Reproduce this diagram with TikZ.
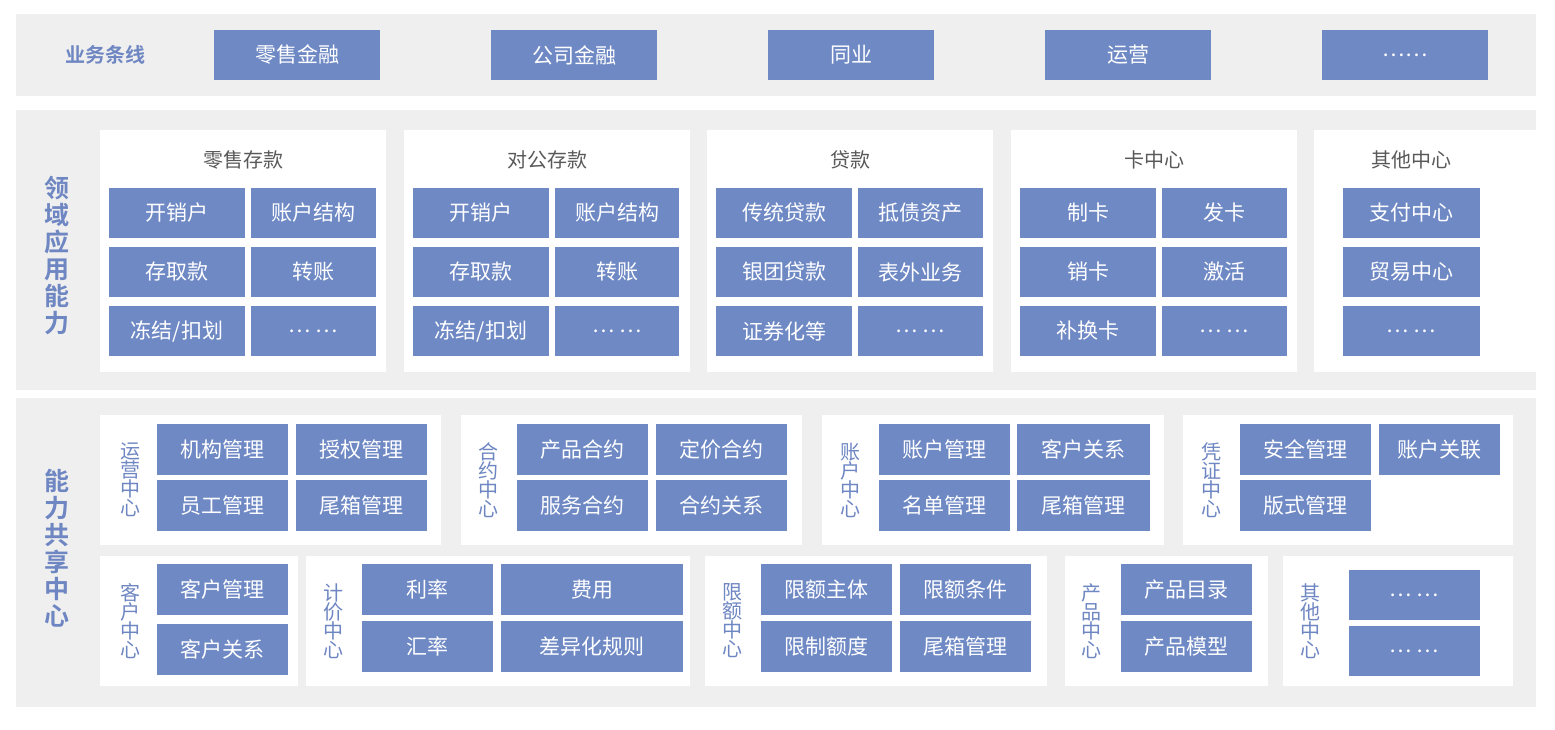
\documentclass[tikz,border=0pt]{standalone}
\usepackage{fontspec}
\setmainfont{Noto Sans CJK SC}
\newfontfamily\cjkbold{Noto Sans CJK SC Bold}
\definecolor{bandgray}{HTML}{EFEFEF}
\definecolor{cellblue}{HTML}{6F89C5}
\definecolor{labelblue}{HTML}{6E86C2}
\tikzset{
  band/.style={fill=bandgray, draw=none},
  panel/.style={fill=white, draw=none},
  cell/.style={fill=cellblue, draw=none},
  celltext/.style={text=white, font=\fontsize{21}{21}\selectfont},
  paneltitle/.style={text=black!65, font=\fontsize{20}{20}\selectfont},
  sidelabel/.style={text=labelblue, font=\cjkbold\fontsize{25}{27}\selectfont, align=center},
  vlabel/.style={text=labelblue, font=\fontsize{20}{19}\selectfont, align=center}
}
% cell from pixel box: name, x1, y1, x2, y2, text
\newcommand{\cellbox}[6]{%
  \fill[cell] (#2,#3) rectangle (#4,#5);
  \node[celltext] (#1) at ({(#2+#4)/2},{(#3+#5)/2}) {#6};}
\begin{document}
\begin{tikzpicture}[x=1pt,y=-1pt]
  \useasboundingbox (0,0) rectangle (1555,730);
  \fill[white] (0,0) rectangle (1555,730);

  % business lines
  \fill[band] (16,14) rectangle (1536,96);
  \node[sidelabel, font=\cjkbold\fontsize{20}{20}\selectfont] (lines) at (105,55) {业务条线};
  \cellbox{bl1}{214}{30}{380}{80}{零售金融}
  \cellbox{bl2}{491}{30}{657}{80}{公司金融}
  \cellbox{bl3}{768}{30}{934}{80}{同业}
  \cellbox{bl4}{1045}{30}{1211}{80}{运营}
  \cellbox{bl5}{1322}{30}{1488}{80}{……}

  % domain capabilities
  \fill[band] (16,110) rectangle (1536,390);
  \node[sidelabel] (domain) at (57,256) {领\\域\\应\\用\\能\\力};
  \foreach \px/\ttl in {100/零售存款, 404/对公存款, 707/贷款, 1011/卡中心}{
    \fill[panel] (\px,130) rectangle (\px+286,372);
    \node[paneltitle] at (\px+143,160) {\ttl};
  }
  \fill[panel] (1314,130) rectangle (1536,372);
  \node[paneltitle] (other) at (1411,160) {其他中心};

  \cellbox{a11}{109}{188}{245}{238}{开销户}
  \cellbox{a12}{251}{188}{376}{238}{账户结构}
  \cellbox{a21}{109}{247}{245}{297}{存取款}
  \cellbox{a22}{251}{247}{376}{297}{转账}
  \cellbox{a31}{109}{306}{245}{356}{冻结/扣划}
  \cellbox{a32}{251}{306}{376}{356}{… …}

  \cellbox{b11}{413}{188}{549}{238}{开销户}
  \cellbox{b12}{555}{188}{679}{238}{账户结构}
  \cellbox{b21}{413}{247}{549}{297}{存取款}
  \cellbox{b22}{555}{247}{679}{297}{转账}
  \cellbox{b31}{413}{306}{549}{356}{冻结/扣划}
  \cellbox{b32}{555}{306}{679}{356}{… …}

  \cellbox{c11}{716}{188}{852}{238}{传统贷款}
  \cellbox{c12}{858}{188}{983}{238}{抵债资产}
  \cellbox{c21}{716}{247}{852}{297}{银团贷款}
  \cellbox{c22}{858}{247}{983}{297}{表外业务}
  \cellbox{c31}{716}{306}{852}{356}{证券化等}
  \cellbox{c32}{858}{306}{983}{356}{… …}

  \cellbox{d11}{1020}{188}{1156}{238}{制卡}
  \cellbox{d12}{1162}{188}{1287}{238}{发卡}
  \cellbox{d21}{1020}{247}{1156}{297}{销卡}
  \cellbox{d22}{1162}{247}{1287}{297}{激活}
  \cellbox{d31}{1020}{306}{1156}{356}{补换卡}
  \cellbox{d32}{1162}{306}{1287}{356}{… …}

  \cellbox{e1}{1343}{188}{1480}{238}{支付中心}
  \cellbox{e2}{1343}{247}{1480}{297}{贸易中心}
  \cellbox{e3}{1343}{306}{1480}{356}{… …}

  % shared capability centres
  \fill[band] (16,398) rectangle (1536,707);
  \node[sidelabel] (shared) at (57,548) {能\\力\\共\\享\\中\\心};

  % upper row
  \fill[panel] (100,415) rectangle (441,545);
  \node[vlabel] (ops) at (130,480) {运\\营\\中\\心};
  \cellbox{o11}{157}{424}{288}{475}{机构管理}
  \cellbox{o12}{296}{424}{427}{475}{授权管理}
  \cellbox{o21}{157}{480}{288}{531}{员工管理}
  \cellbox{o22}{296}{480}{427}{531}{尾箱管理}

  \fill[panel] (461,415) rectangle (802,545);
  \node[vlabel] (contract) at (488,480) {合\\约\\中\\心};
  \cellbox{k11}{517}{424}{648}{475}{产品合约}
  \cellbox{k12}{656}{424}{787}{475}{定价合约}
  \cellbox{k21}{517}{480}{648}{531}{服务合约}
  \cellbox{k22}{656}{480}{787}{531}{合约关系}

  \fill[panel] (822,415) rectangle (1164,545);
  \node[vlabel] (acct) at (850,480) {账\\户\\中\\心};
  \cellbox{h11}{879}{424}{1010}{475}{账户管理}
  \cellbox{h12}{1017}{424}{1150}{475}{客户关系}
  \cellbox{h21}{879}{480}{1010}{531}{名单管理}
  \cellbox{h22}{1017}{480}{1150}{531}{尾箱管理}

  \fill[panel] (1183,415) rectangle (1513,545);
  \node[vlabel] (voucher) at (1211,480) {凭\\证\\中\\心};
  \cellbox{v11}{1240}{424}{1371}{475}{安全管理}
  \cellbox{v12}{1379}{424}{1500}{475}{账户关联}
  \cellbox{v21}{1240}{480}{1371}{531}{版式管理}

  % lower row
  \fill[panel] (100,556) rectangle (298,686);
  \node[vlabel] (cust) at (130,621) {客\\户\\中\\心};
  \cellbox{u1}{157}{564}{288}{615}{客户管理}
  \cellbox{u2}{157}{624}{288}{675}{客户关系}

  \fill[panel] (306,556) rectangle (690,686);
  \node[vlabel] (pricing) at (333,621) {计\\价\\中\\心};
  \cellbox{p11}{362}{564}{493}{615}{利率}
  \cellbox{p12}{501}{564}{683}{615}{费用}
  \cellbox{p21}{362}{621}{493}{672}{汇率}
  \cellbox{p22}{501}{621}{683}{672}{差异化规则}

  \fill[panel] (705,556) rectangle (1047,686);
  \node[vlabel] (limit) at (732,621) {限\\额\\中\\心};
  \cellbox{l11}{761}{564}{892}{615}{限额主体}
  \cellbox{l12}{900}{564}{1031}{615}{限额条件}
  \cellbox{l21}{761}{621}{892}{672}{限制额度}
  \cellbox{l22}{900}{621}{1031}{672}{尾箱管理}

  \fill[panel] (1065,556) rectangle (1268,686);
  \node[vlabel] (prod) at (1091,621) {产\\品\\中\\心};
  \cellbox{r1}{1121}{564}{1252}{615}{产品目录}
  \cellbox{r2}{1121}{621}{1252}{672}{产品模型}

  \fill[panel] (1283,556) rectangle (1513,686);
  \node[vlabel] (rest) at (1310,621) {其\\他\\中\\心};
  \cellbox{s1}{1349}{570}{1480}{620}{… …}
  \cellbox{s2}{1349}{626}{1480}{676}{… …}
\end{tikzpicture}
\end{document}
